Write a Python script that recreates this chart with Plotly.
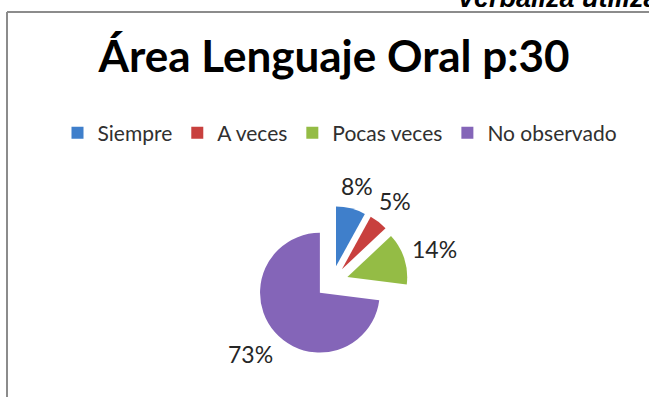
import math
import plotly.graph_objects as go

# Survey results for the oral language area (n = 30)
categories = ["Siempre", "A veces", "Pocas veces", "No observado"]
percentages = [8, 5, 14, 73]
slice_colors = ["#3F7FCB", "#C8403E", "#94BC45", "#8465B8"]

W, H = 649, 397

# pie geometry (pixels): square domain, every slice exploded by the same amount
PIE_LEFT, PIE_RIGHT, PIE_TOP, PIE_BOTTOM = 256, 408, 206, 358
PULL = 0.27
LABEL_SIZE = 23
LABEL_GAP = 9

cx = (PIE_LEFT + PIE_RIGHT) / 2
cy = (PIE_TOP + PIE_BOTTOM) / 2
radius = (PIE_RIGHT - PIE_LEFT) / 2 / (1 + PULL)

fig = go.Figure(
    go.Pie(
        labels=categories,
        values=percentages,
        sort=False,
        direction="clockwise",
        rotation=0,
        pull=PULL,
        marker=dict(colors=slice_colors, line=dict(width=0)),
        textinfo="none",
        hoverinfo="label+percent",
        domain=dict(x=[PIE_LEFT / W, PIE_RIGHT / W],
                    y=[1 - PIE_BOTTOM / H, 1 - PIE_TOP / H]),
        showlegend=True,
    )
)

# percentage labels placed just outside each exploded slice, at its mid-angle
annotations = []
total = sum(percentages)
start = 0.0
for value in percentages:
    mid = (start + value / 2) / total * 2 * math.pi
    start += value
    sx, sy = math.sin(mid), -math.cos(mid)
    text = f"{value}%"
    half_w = 0.3 * LABEL_SIZE * len(text)
    half_h = 0.5 * LABEL_SIZE
    dist = radius * (1 + PULL) + abs(sx) * half_w + abs(sy) * half_h + LABEL_GAP
    px, py = cx + dist * sx, cy + dist * sy
    annotations.append(dict(
        text=text, x=px / W, y=1 - py / H, xref="paper", yref="paper",
        xanchor="center", yanchor="middle", showarrow=False,
        font=dict(family="Lato", size=LABEL_SIZE, color="#262626"),
    ))

annotations.append(dict(
    text="<b><i>Verbaliza utilizando</i></b>",
    xref="paper", yref="paper",
    x=455 / W, xanchor="left",
    y=1 - 15 / H, yanchor="bottom",
    showarrow=False,
    font=dict(family="Liberation Sans", size=27, color="black"),
))

fig.update_layout(
    width=W,
    height=H,
    margin=dict(l=0, r=0, t=0, b=0),
    paper_bgcolor="white",
    plot_bgcolor="white",
    title=dict(
        text="<b>Área Lenguaje Oral p:30</b>",
        font=dict(family="Lato", size=44, color="black"),
        x=334 / W,
        xanchor="center",
        xref="paper",
        y=1 - 57 / H,
        yref="paper",
        yanchor="middle",
    ),
    legend=dict(
        orientation="h",
        x=340 / W,
        xanchor="center",
        y=1 - 133 / H,
        yanchor="middle",
        font=dict(family="Lato", size=21, color="#303030"),
        bgcolor="rgba(0,0,0,0)",
        itemwidth=30,
        traceorder="normal",
    ),
    shapes=[
        # chart frame (left and top edges visible)
        dict(type="line", xref="paper", yref="paper",
             x0=7 / W, x1=7 / W, y0=0, y1=1 - 12 / H,
             line=dict(color="#8C8C8C", width=2)),
        dict(type="line", xref="paper", yref="paper",
             x0=7 / W, x1=1, y0=1 - 12 / H, y1=1 - 12 / H,
             line=dict(color="#8C8C8C", width=2)),
    ],
    annotations=annotations,
)

fig.write_html("out.html")
